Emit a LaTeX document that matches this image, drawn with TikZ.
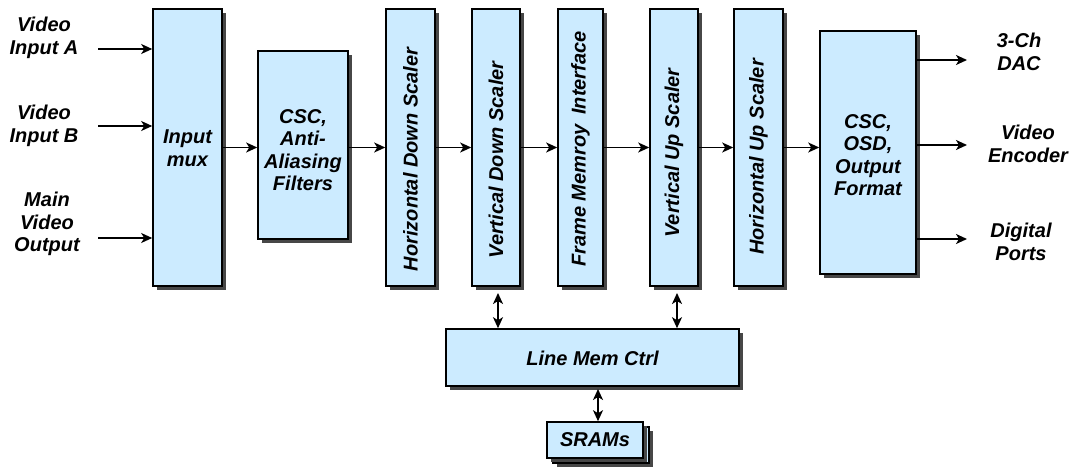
\documentclass[tikz,border=0pt]{standalone}
\usepackage{fontspec}
\setmainfont{Liberation Sans}
\usetikzlibrary{arrows.meta,shadows,calc}
\begin{document}
\begin{tikzpicture}[x=1pt,y=-1pt,
  blk/.style={draw=black,line width=1.6pt,fill=boxblue,inner sep=0pt,
    drop shadow={shadow xshift=4pt,shadow yshift=-4pt,fill=black!72,opacity=1}},
  txt/.style={font=\fontsize{20}{22.5}\selectfont\bfseries\itshape,align=center,inner sep=0pt},
  rtxt/.style={txt,rotate=90},
  arr/.style={line width=1.6pt,-{Stealth[length=11pt,width=10pt,inset=3pt]}},
  barr/.style={line width=1.6pt,{Stealth[length=11pt,width=10pt,inset=3pt]}-{Stealth[length=11pt,width=10pt,inset=3pt]}}]
\definecolor{boxblue}{HTML}{CCEBFF}
\useasboundingbox (0,0) rectangle (1074,468);
% boxes
\node[blk,minimum width=69pt,minimum height=277pt] (mux) at (187.5,147.5) {};
\node[txt] (muxT) at (187.5,148) {Input\\mux};
\node[blk,minimum width=90pt,minimum height=188pt] (csc1) at (303,145) {};
\node[txt] (csc1T) at (303,150) {CSC,\\Anti-\\Aliasing\\Filters};
\node[blk,minimum width=49pt,minimum height=277pt] (hds) at (410.5,147.5) {};
\node[rtxt] (hdsT) at (410.5,159.5) {Horizontal Down Scaler};
\node[blk,minimum width=48pt,minimum height=277pt] (vds) at (496,147.5) {};
\node[rtxt] (vdsT) at (496,160) {Vertical Down Scaler};
\node[blk,minimum width=45pt,minimum height=277pt] (fmi) at (580.5,147.5) {};
\node[rtxt] (fmiT) at (580.5,149) {Frame Memroy\hspace{0.5em}Interface};
\node[blk,minimum width=48pt,minimum height=277pt] (vus) at (674,147.5) {};
\node[rtxt] (vusT) at (674,153) {Vertical Up Scaler};
\node[blk,minimum width=49pt,minimum height=277pt] (hus) at (758.5,147.5) {};
\node[rtxt] (husT) at (758.5,157) {Horizontal Up Scaler};
\node[blk,minimum width=96pt,minimum height=243pt] (csc2) at (868,152.5) {};
\node[txt] (csc2T) at (868,155) {CSC,\\OSD,\\Output\\Format};
\node[blk,minimum width=293pt,minimum height=57pt] (lmc) at (592.5,357.5) {};
\node[txt] (lmcT) at (592.5,358) {Line Mem Ctrl};
\node[blk,minimum width=96pt,minimum height=36pt] (sramB) at (601,445) {};
\node[blk,minimum width=96pt,minimum height=36pt] (sram) at (595,440) {};
\node[txt] (sramT) at (595,440) {SRAMs};
% input labels
\node[txt] (la) at (44,38) {Video\\Input A};
\node[txt] (lb) at (44,126) {Video\\Input B};
\node[txt] (lc) at (47,224) {Main\\Video\\Output};
% output labels
\node[txt] (oa) at (1019,52) {3-Ch\\DAC};
\node[txt] (ob) at (1028,144) {Video\\Encoder};
\node[txt] (oc) at (1021,242) {Digital\\Ports};
% input arrows
\coordinate (ia) at (98,49);
\coordinate (ib) at (98,126);
\coordinate (ic) at (98,238);
\draw[arr] (ia) -- (ia -| mux.west);
\draw[arr] (ib) -- (ib -| mux.west);
\draw[arr] (ic) -- (ic -| mux.west);
% chain
\draw[arr] (mux.east) -- (mux.east -| csc1.west);
\draw[arr] (csc1.east |- mux.east) -- (hds.west |- mux.east);
\draw[arr] (hds.east) -- (hds.east -| vds.west);
\draw[arr] (vds.east) -- (vds.east -| fmi.west);
\draw[arr] (fmi.east) -- (fmi.east -| vus.west);
\draw[arr] (vus.east) -- (vus.east -| hus.west);
\draw[arr] (hus.east) -- (hus.east -| csc2.west);
% outputs
\coordinate (pa) at (967,60);
\coordinate (pb) at (967,145);
\coordinate (pc) at (967,239);
\draw[arr] (pa -| csc2.east) -- (pa);
\draw[arr] (pb -| csc2.east) -- (pb);
\draw[arr] (pc -| csc2.east) -- (pc);
% memory links
\coordinate (m1) at (498,293);
\coordinate (m2) at (677,293);
\coordinate (m3) at (598,389);
\draw[barr] (m1) -- (m1 |- lmc.north);
\draw[barr] (m2) -- (m2 |- lmc.north);
\draw[barr] (m3) -- (m3 |- sram.north);
\end{tikzpicture}
\end{document}
